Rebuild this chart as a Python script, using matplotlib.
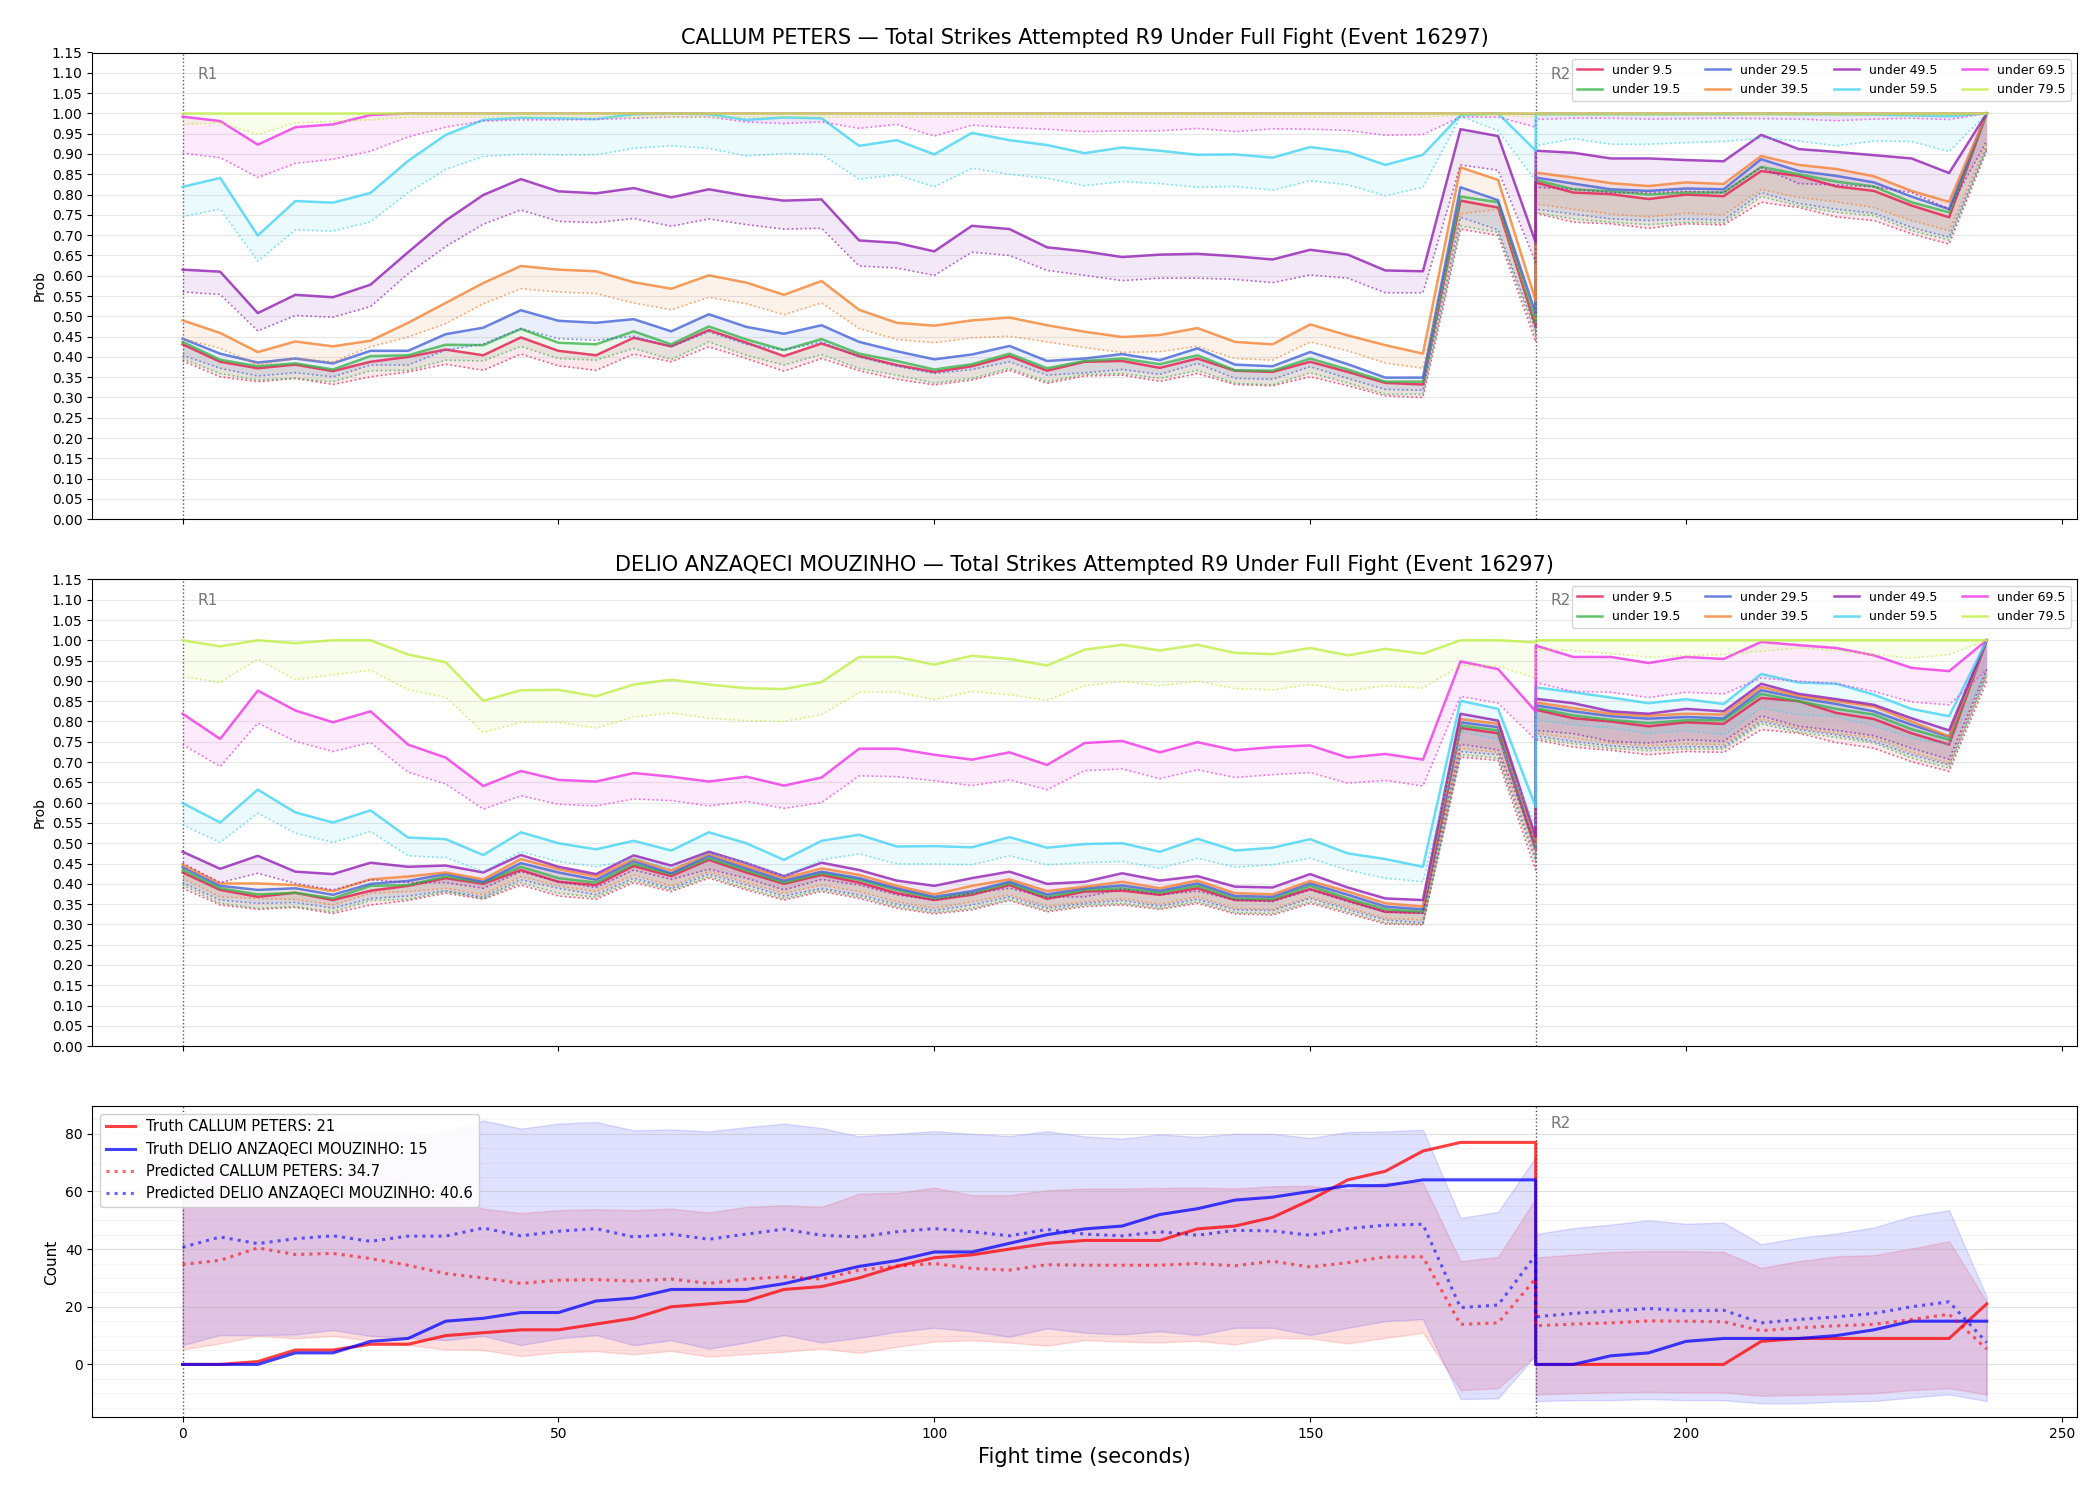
import matplotlib
matplotlib.use("Agg")
import matplotlib.pyplot as plt
import matplotlib.transforms as mtransforms
from matplotlib.ticker import MultipleLocator

# time axis: round 1 samples then round 2 samples (180 repeated -> vertical jump)
t_r1 = list(range(0, 185, 5))
t_r2 = list(range(180, 245, 5))
t = t_r1 + t_r2

labels = ["under 9.5", "under 19.5", "under 29.5", "under 39.5",
          "under 49.5", "under 59.5", "under 69.5", "under 79.5"]
colors = ["#e6194b", "#3cb44b", "#4363d8", "#f58231",
          "#911eb4", "#42d4f4", "#f032e6", "#bfef45"]

# ---------------- CALLUM PETERS (top) ----------------
cp_u95 = [0.431,0.388,0.372,0.381,0.365,0.388,0.400,0.418,0.404,0.448,0.415,0.404,0.447,0.426,
          0.466,0.435,0.402,0.433,0.402,0.380,0.363,0.377,0.402,0.366,0.388,0.390,0.373,0.396,0.366,0.363,0.388,0.363,0.336,
          0.332,0.785,0.768,0.475,
          0.830,0.805,0.801,0.789,0.800,0.796,0.858,0.846,0.820,0.809,0.773,0.744,1.0]
cp_u95_lo = [0.390,0.351,0.339,0.347,0.332,0.351,0.363,0.382,0.367,0.407,0.378,0.367,0.407,0.388,
             0.425,0.396,0.365,0.396,0.366,0.345,0.331,0.343,0.367,0.335,0.353,0.355,0.340,0.359,0.332,0.329,0.351,0.329,0.304,
             0.300,0.715,0.699,0.437,
             0.754,0.732,0.728,0.717,0.728,0.725,0.781,0.768,0.745,0.736,0.703,0.678,0.908]
cp_u195 = [0.437,0.393,0.377,0.384,0.369,0.402,0.404,0.430,0.429,0.469,0.435,0.431,0.463,0.431,
           0.475,0.443,0.417,0.444,0.408,0.390,0.369,0.382,0.408,0.372,0.390,0.396,0.382,0.404,0.367,0.366,0.396,0.369,0.339,
           0.339,0.795,0.781,0.486,
           0.836,0.813,0.808,0.800,0.805,0.805,0.868,0.850,0.832,0.820,0.781,0.756,1.0]
cp_u195_lo = [0.396,0.359,0.343,0.347,0.339,0.366,0.367,0.392,0.390,0.426,0.396,0.392,0.421,0.394,
              0.437,0.404,0.380,0.406,0.372,0.355,0.336,0.347,0.372,0.339,0.357,0.359,0.347,0.367,0.335,0.331,0.361,0.336,0.308,
              0.308,0.723,0.707,0.453,
              0.756,0.740,0.732,0.726,0.732,0.730,0.795,0.772,0.756,0.748,0.711,0.688,0.912]
cp_u295 = [0.445,0.408,0.386,0.396,0.384,0.415,0.415,0.456,0.472,0.515,0.489,0.484,0.493,0.463,
           0.505,0.474,0.457,0.478,0.437,0.414,0.394,0.406,0.427,0.390,0.396,0.407,0.392,0.421,0.381,0.377,0.412,0.382,0.349,
           0.349,0.818,0.786,0.507,
           0.842,0.827,0.813,0.809,0.815,0.813,0.887,0.858,0.846,0.830,0.795,0.764,1.0]
cp_u295_lo = [0.404,0.372,0.353,0.361,0.351,0.380,0.380,0.417,0.432,0.470,0.445,0.441,0.451,0.425,
              0.462,0.431,0.417,0.437,0.400,0.377,0.359,0.369,0.388,0.355,0.361,0.369,0.357,0.384,0.347,0.345,0.376,0.347,0.320,
              0.318,0.744,0.713,0.466,
              0.764,0.752,0.740,0.736,0.740,0.737,0.805,0.778,0.764,0.754,0.719,0.695,0.916]
cp_u395 = [0.490,0.459,0.412,0.438,0.426,0.440,0.484,0.533,0.582,0.624,0.615,0.611,0.584,0.568,
           0.601,0.583,0.553,0.587,0.516,0.484,0.477,0.490,0.497,0.478,0.462,0.449,0.454,0.471,0.437,0.431,0.480,0.453,0.429,
           0.408,0.867,0.836,0.539,
           0.854,0.842,0.828,0.821,0.830,0.826,0.895,0.873,0.863,0.845,0.809,0.782,1.0]
cp_u395_lo = [0.445,0.421,0.380,0.396,0.388,0.425,0.449,0.482,0.531,0.568,0.560,0.556,0.533,0.516,
              0.547,0.531,0.504,0.533,0.470,0.443,0.435,0.447,0.451,0.437,0.423,0.411,0.413,0.426,0.396,0.392,0.437,0.415,0.385,
              0.372,0.752,0.764,0.490,
              0.777,0.764,0.752,0.745,0.754,0.750,0.813,0.793,0.782,0.768,0.736,0.711,0.924]
cp_u495 = [0.615,0.610,0.508,0.553,0.547,0.578,0.658,0.736,0.799,0.838,0.808,0.803,0.816,0.793,
           0.813,0.797,0.785,0.788,0.687,0.681,0.660,0.723,0.715,0.670,0.660,0.646,0.652,0.654,0.648,0.640,0.664,0.652,0.613,
           0.611,0.961,0.944,0.682,
           0.908,0.903,0.889,0.889,0.885,0.882,0.947,0.912,0.905,0.897,0.889,0.853,1.0]
cp_u495_lo = [0.560,0.554,0.464,0.502,0.498,0.524,0.605,0.672,0.727,0.762,0.734,0.731,0.741,0.722,
              0.740,0.726,0.715,0.717,0.624,0.619,0.601,0.658,0.650,0.613,0.601,0.588,0.594,0.594,0.591,0.583,0.602,0.594,0.558,
              0.558,0.873,0.860,0.633,
              0.818,0.813,0.805,0.805,0.808,0.805,0.867,0.827,0.824,0.819,0.805,0.764,0.932]
cp_u595 = [0.819,0.841,0.699,0.784,0.780,0.804,0.883,0.947,0.984,0.989,0.988,0.986,0.998,1.0,
           0.998,0.984,0.990,0.988,0.920,0.934,0.899,0.952,0.934,0.922,0.902,0.916,0.908,0.898,0.899,0.891,0.917,0.905,0.873,
           0.898,0.996,1.0,0.908,
           0.998,0.998,0.998,0.998,0.998,0.998,0.999,0.998,0.998,0.997,0.995,0.993,1.0]
cp_u595_lo = [0.746,0.764,0.636,0.713,0.710,0.733,0.805,0.862,0.894,0.899,0.898,0.898,0.914,0.920,
              0.914,0.895,0.901,0.899,0.838,0.849,0.819,0.865,0.850,0.840,0.822,0.832,0.827,0.818,0.820,0.811,0.834,0.824,0.797,
              0.818,0.993,0.957,0.834,
              0.920,0.938,0.924,0.924,0.928,0.931,0.939,0.932,0.920,0.932,0.931,0.906,1.0]
cp_u695 = [0.992,0.981,0.923,0.966,0.973,0.996,1.0,1.0,1.0,1.0,1.0,1.0,1.0,1.0,
           1.0,1.0,1.0,1.0,1.0,1.0,1.0,1.0,1.0,1.0,1.0,1.0,1.0,1.0,1.0,1.0,1.0,1.0,1.0,
           1.0,1.0,1.0,0.999,
           1.0,1.0,1.0,1.0,1.0,1.0,1.0,1.0,1.0,1.0,1.0,1.0,1.0]
cp_u695_lo = [0.902,0.891,0.842,0.877,0.887,0.907,0.942,0.966,0.981,0.984,0.984,0.985,0.988,0.991,
              0.991,0.979,0.975,0.979,0.963,0.973,0.944,0.971,0.965,0.961,0.955,0.957,0.957,0.963,0.955,0.962,0.961,0.958,0.946,
              0.948,0.991,0.991,0.966,
              0.985,0.988,0.988,0.986,0.987,0.988,0.987,0.986,0.982,0.986,0.988,0.985,1.0]
cp_u795 = [1.0,1.0,1.0,1.0,1.0,1.0,1.0,1.0,1.0,1.0,1.0,1.0,1.0,1.0,
           1.0,1.0,1.0,1.0,1.0,1.0,1.0,1.0,1.0,1.0,1.0,1.0,1.0,1.0,1.0,1.0,1.0,1.0,1.0,
           1.0,1.0,1.0,1.0,
           1.0,1.0,1.0,1.0,1.0,1.0,1.0,1.0,1.0,1.0,1.0,1.0,1.0]
cp_u795_lo = [0.973,0.977,0.948,0.977,0.980,0.984,0.991,0.991,0.991,0.991,0.991,0.991,0.991,0.991,
              0.991,0.991,0.991,0.991,0.991,0.991,0.991,0.991,0.991,0.991,0.991,0.991,0.991,0.991,0.991,0.991,0.991,0.991,0.991,
              0.991,0.995,0.995,0.991,
              0.995,0.995,0.995,0.995,0.995,0.995,0.995,0.995,0.995,0.995,0.995,0.995,1.0]

# ---------------- DELIO ANZAQECI MOUZINHO (middle) ----------------
dm_u95 = [0.428,0.385,0.368,0.378,0.360,0.383,0.395,0.414,0.400,0.434,0.405,0.397,0.444,0.419,
          0.459,0.428,0.400,0.422,0.403,0.377,0.360,0.373,0.397,0.363,0.381,0.383,0.373,0.389,0.360,0.359,0.387,0.359,0.331,
          0.329,0.784,0.771,0.484,
          0.829,0.808,0.800,0.788,0.798,0.794,0.858,0.850,0.821,0.806,0.771,0.743,1.0]
dm_u95_lo = [0.389,0.348,0.337,0.342,0.327,0.348,0.359,0.377,0.362,0.397,0.370,0.362,0.403,0.381,
             0.414,0.385,0.360,0.381,0.364,0.340,0.326,0.336,0.359,0.331,0.344,0.348,0.337,0.352,0.326,0.323,0.352,0.327,0.301,
             0.299,0.712,0.704,0.434,
             0.755,0.737,0.729,0.718,0.726,0.724,0.780,0.771,0.748,0.734,0.701,0.677,0.899]
dm_u195 = [0.434,0.389,0.374,0.378,0.364,0.395,0.397,0.418,0.403,0.442,0.414,0.403,0.449,0.424,
           0.463,0.433,0.403,0.426,0.410,0.385,0.364,0.377,0.401,0.368,0.385,0.389,0.378,0.395,0.364,0.362,0.395,0.364,0.337,
           0.331,0.790,0.778,0.490,
           0.833,0.815,0.804,0.796,0.803,0.803,0.868,0.850,0.831,0.817,0.781,0.755,1.0]
dm_u195_lo = [0.397,0.352,0.340,0.344,0.331,0.359,0.362,0.381,0.364,0.403,0.377,0.367,0.408,0.385,
              0.418,0.389,0.364,0.385,0.368,0.344,0.329,0.340,0.362,0.334,0.348,0.352,0.340,0.356,0.329,0.327,0.356,0.331,0.304,
              0.301,0.718,0.710,0.455,
              0.759,0.745,0.734,0.728,0.732,0.732,0.794,0.773,0.761,0.747,0.710,0.685,0.911]
dm_u295 = [0.441,0.395,0.385,0.389,0.373,0.400,0.407,0.424,0.405,0.451,0.428,0.410,0.456,0.426,
           0.469,0.438,0.408,0.430,0.414,0.389,0.368,0.382,0.405,0.374,0.389,0.396,0.383,0.401,0.370,0.368,0.401,0.373,0.344,
           0.337,0.798,0.786,0.492,
           0.840,0.825,0.813,0.807,0.811,0.808,0.877,0.858,0.843,0.825,0.792,0.762,1.0]
dm_u295_lo = [0.403,0.360,0.352,0.354,0.340,0.364,0.370,0.383,0.367,0.410,0.389,0.373,0.414,0.389,
              0.424,0.397,0.370,0.389,0.373,0.350,0.334,0.348,0.368,0.340,0.352,0.359,0.345,0.362,0.336,0.334,0.364,0.337,0.311,
              0.304,0.726,0.718,0.463,
              0.765,0.751,0.740,0.734,0.738,0.737,0.800,0.780,0.767,0.751,0.718,0.693,0.915]
dm_u395 = [0.447,0.401,0.401,0.397,0.382,0.411,0.418,0.428,0.411,0.461,0.436,0.418,0.461,0.433,
           0.474,0.444,0.414,0.438,0.422,0.395,0.374,0.395,0.411,0.382,0.393,0.405,0.389,0.408,0.377,0.374,0.407,0.381,0.352,
           0.344,0.806,0.794,0.500,
           0.847,0.833,0.819,0.814,0.819,0.817,0.885,0.863,0.850,0.837,0.800,0.763,1.0]
dm_u395_lo = [0.414,0.368,0.364,0.362,0.348,0.377,0.381,0.389,0.373,0.418,0.395,0.381,0.422,0.395,
              0.430,0.403,0.377,0.397,0.381,0.356,0.340,0.356,0.373,0.345,0.356,0.364,0.350,0.368,0.340,0.337,0.368,0.342,0.315,
              0.311,0.734,0.724,0.475,
              0.771,0.759,0.747,0.740,0.745,0.743,0.806,0.784,0.771,0.759,0.724,0.697,0.919]
dm_u495 = [0.479,0.437,0.469,0.430,0.424,0.452,0.442,0.445,0.428,0.471,0.442,0.424,0.470,0.445,
           0.479,0.451,0.419,0.452,0.434,0.408,0.395,0.414,0.430,0.400,0.405,0.426,0.408,0.419,0.393,0.391,0.424,0.391,0.364,
           0.360,0.819,0.802,0.516,
           0.856,0.845,0.825,0.819,0.831,0.825,0.893,0.868,0.855,0.841,0.808,0.778,1.0]
dm_u495_lo = [0.451,0.403,0.426,0.401,0.385,0.410,0.403,0.403,0.389,0.430,0.405,0.391,0.434,0.411,
              0.436,0.414,0.385,0.411,0.397,0.373,0.360,0.377,0.389,0.367,0.368,0.387,0.373,0.382,0.360,0.356,0.385,0.356,0.331,
              0.327,0.744,0.730,0.500,
              0.778,0.770,0.751,0.747,0.755,0.751,0.814,0.788,0.778,0.765,0.734,0.707,0.928]
dm_u595 = [0.599,0.551,0.632,0.576,0.551,0.581,0.514,0.510,0.471,0.527,0.500,0.485,0.506,0.482,
           0.527,0.500,0.459,0.506,0.521,0.492,0.493,0.490,0.515,0.489,0.498,0.500,0.479,0.511,0.482,0.489,0.510,0.475,0.461,
           0.442,0.851,0.831,0.590,
           0.884,0.872,0.859,0.845,0.855,0.843,0.917,0.896,0.893,0.866,0.831,0.813,1.0]
dm_u595_lo = [0.545,0.502,0.574,0.525,0.502,0.529,0.469,0.465,0.430,0.479,0.455,0.442,0.461,0.438,
              0.475,0.452,0.418,0.459,0.474,0.449,0.449,0.447,0.469,0.447,0.452,0.455,0.438,0.463,0.441,0.447,0.463,0.434,0.414,
              0.405,0.776,0.755,0.541,
              0.804,0.792,0.784,0.770,0.778,0.767,0.833,0.817,0.812,0.789,0.759,0.743,0.924]
dm_u695 = [0.819,0.757,0.876,0.827,0.798,0.825,0.743,0.711,0.641,0.678,0.656,0.652,0.673,0.664,
           0.652,0.664,0.642,0.662,0.733,0.733,0.718,0.706,0.724,0.693,0.747,0.752,0.724,0.749,0.729,0.737,0.741,0.711,0.720,
           0.706,0.948,0.929,0.825,
           0.987,0.959,0.959,0.944,0.959,0.954,0.996,0.988,0.981,0.963,0.932,0.924,1.0]
dm_u695_lo = [0.743,0.689,0.796,0.751,0.726,0.748,0.675,0.646,0.584,0.617,0.596,0.592,0.609,0.605,
              0.592,0.603,0.586,0.600,0.666,0.664,0.654,0.642,0.656,0.632,0.679,0.683,0.659,0.681,0.662,0.669,0.674,0.648,0.655,
              0.641,0.862,0.845,0.755,
              0.896,0.874,0.872,0.859,0.872,0.868,0.907,0.899,0.893,0.874,0.848,0.841,0.928]
dm_u795 = [1.0,0.985,1.0,0.993,1.0,1.0,0.965,0.946,0.851,0.877,0.878,0.862,0.891,0.903,
           0.891,0.882,0.880,0.897,0.959,0.959,0.940,0.962,0.954,0.938,0.977,0.989,0.975,0.989,0.969,0.966,0.981,0.963,0.979,
           0.967,1.0,1.0,0.995,
           1.0,1.0,1.0,1.0,1.0,1.0,1.0,1.0,1.0,1.0,1.0,1.0,1.0]
dm_u795_lo = [0.911,0.896,0.954,0.903,0.915,0.926,0.878,0.860,0.773,0.798,0.798,0.784,0.811,0.821,
              0.808,0.802,0.800,0.817,0.872,0.872,0.854,0.874,0.866,0.852,0.888,0.899,0.888,0.899,0.881,0.878,0.891,0.876,0.888,
              0.882,0.938,0.936,0.907,
              0.977,0.975,0.967,0.959,0.962,0.965,0.973,0.981,0.975,0.965,0.956,0.965,1.0]

# ---------------- counts (bottom) ----------------
truth_cp = [0,0,1,5,5,7,7,10,11,12,12,14,16,20,
            21,22,26,27,30,34,37,38,40,42,43,43,43,47,48,51,57,64,67,
            74,77,77,77,
            0,0,0,0,0,0,8,9,9,9,9,9,21]
truth_dm = [0,0,0,4,4,8,9,15,16,18,18,22,23,26,
            26,26,28,31,34,36,39,39,42,45,47,48,52,54,57,58,60,62,62,
            64,64,64,64,
            0,0,3,4,8,9,9,9,10,12,15,15,15]
pred_cp = [34.7,36.1,40.4,38.1,38.5,36.7,34.4,31.5,30.0,28.1,29.2,29.4,28.9,29.6,
           28.1,29.6,30.4,29.6,32.7,34.1,35.0,33.3,32.7,34.6,34.4,34.4,34.4,35.0,34.2,35.8,33.8,35.3,37.3,
           37.3,13.9,14.4,29.8,
           13.4,14.0,14.4,15.1,15.0,14.8,11.7,12.7,13.4,13.9,15.6,17.4,5.3]
pred_dm = [40.6,44.2,41.9,43.6,44.6,42.7,44.5,44.5,47.3,44.6,46.2,47.1,44.2,45.2,
           43.4,45.2,46.9,44.8,44.2,46.0,47.1,46.0,44.6,46.8,45.2,44.6,46.0,44.8,46.5,46.3,44.8,47.1,48.3,
           48.6,19.7,20.6,37.9,
           16.5,17.7,18.5,19.4,18.6,18.8,14.4,15.6,16.5,17.7,20.0,21.7,7.6]
cp_lo = [5.2,7.3,9.9,9.0,9.9,8.2,6.7,5.2,5.0,2.9,4.2,4.6,3.5,4.7,
         2.7,3.6,4.4,5.5,4.0,6.1,7.9,8.4,7.6,6.5,8.4,7.9,7.6,8.2,6.9,9.2,9.0,7.3,9.2,
         11.0,-8.9,-8.3,3.2,
         -10.4,-10.0,-9.7,-9.5,-9.7,-9.7,-10.9,-10.6,-10.4,-10.0,-8.9,-8.3,-10.4]
cp_hi = [64,67,70,69,68,66,63,58,54,52.5,53.5,53.8,53.5,54,
         52.7,54.6,55.2,54.6,59.2,59.5,61.3,58.7,58.7,60.4,61,61,61.2,61.3,61,61.8,61.9,60.7,63,
         63,35.8,37.3,57.5,
         37.1,38.1,39.0,39.3,39.3,39.0,33.5,35.8,37.5,37.9,40.2,42.7,21.7]
dm_lo = [6.7,10.2,10.2,10.4,11.9,9.9,9.2,8.4,9.9,6.7,9.0,10.2,6.7,8.4,
         5.5,7.6,10.2,7.6,9.2,11.3,12.7,11.5,9.6,12.5,11.0,10.4,11.5,10.2,12.7,12.7,10.2,12.7,15.0,
         15.7,-12.0,-11.8,3.2,
         -12.7,-12.4,-12.4,-12.0,-12.4,-12.4,-13.5,-13.5,-12.9,-12.7,-11.5,-10.4,-12.7]
dm_hi = [70,75,74,76,77,77,79,81,84.6,81.8,83.5,84.1,81.2,81.5,
         80.8,82.3,83.5,82.0,79.1,80.0,80.9,80.0,79.2,80.9,79.1,78.3,79.8,78.9,80.0,80.0,78.5,80.6,80.8,
         81.4,50.8,52.9,71.9,
         45.2,47.3,48.5,50.0,48.8,49.2,41.7,43.9,45.4,47.5,51.4,53.5,23.4]

name_cp = "CALLUM PETERS"
name_dm = "DELIO ANZAQECI MOUZINHO"
final_cp = 21
final_dm = 15
round_starts = [0, 180]
round_names = ["R1", "R2"]

cp_means = [cp_u95, cp_u195, cp_u295, cp_u395, cp_u495, cp_u595, cp_u695, cp_u795]
cp_lows = [cp_u95_lo, cp_u195_lo, cp_u295_lo, cp_u395_lo, cp_u495_lo, cp_u595_lo, cp_u695_lo, cp_u795_lo]
dm_means = [dm_u95, dm_u195, dm_u295, dm_u395, dm_u495, dm_u595, dm_u695, dm_u795]
dm_lows = [dm_u95_lo, dm_u195_lo, dm_u295_lo, dm_u395_lo, dm_u495_lo, dm_u595_lo, dm_u695_lo, dm_u795_lo]


def mark_rounds(ax):
    trans = mtransforms.blended_transform_factory(ax.transData, ax.transAxes)
    for x, name in zip(round_starts, round_names):
        ax.axvline(x, color="#555555", linestyle=":", linewidth=1.0, zorder=1)
        ax.text(x + 2, 0.97, name, transform=trans, va="top", ha="left",
                fontsize=11, color="#777777")


def prob_panel(ax, name, means, lows):
    for lab, col, m, lo in zip(labels, colors, means, lows):
        ax.fill_between(t, lo, m, color=col, alpha=0.1, linewidth=0)
        ax.plot(t, lo, color=col, linestyle=":", linewidth=1.2, alpha=0.7)
        ax.plot(t, m, color=col, linewidth=1.8, alpha=0.8, label=lab)
    mark_rounds(ax)
    ax.set_ylim(0, 1.15)
    ax.yaxis.set_major_locator(MultipleLocator(0.05))
    ax.grid(axis="y", alpha=0.3)
    ax.set_ylabel("Prob")
    ax.set_title(name + " \u2014 Total Strikes Attempted R9 Under Full Fight (Event 16297)",
                 fontsize=15)
    ax.legend(loc="upper right", ncol=4, fontsize=9)
    ax.tick_params(labelbottom=False)


fig = plt.figure(figsize=(21, 15), dpi=100)
gs = fig.add_gridspec(3, 1, height_ratios=[3, 3, 2], hspace=0.145,
                      left=0.044, right=0.989, top=0.965, bottom=0.055)
ax1 = fig.add_subplot(gs[0])
ax2 = fig.add_subplot(gs[1], sharex=ax1)
ax3 = fig.add_subplot(gs[2], sharex=ax1)

prob_panel(ax1, name_cp, cp_means, cp_lows)
prob_panel(ax2, name_dm, dm_means, dm_lows)

# counts panel
ax3.fill_between(t, cp_lo, cp_hi, color="red", alpha=0.13)
ax3.fill_between(t, dm_lo, dm_hi, color="blue", alpha=0.12)
ax3.plot(t, truth_cp, color="red", linewidth=2.2, alpha=0.75,
         label="Truth %s: %d" % (name_cp, final_cp))
ax3.plot(t, truth_dm, color="blue", linewidth=2.2, alpha=0.75,
         label="Truth %s: %d" % (name_dm, final_dm))
ax3.plot(t, pred_cp, color="red", linestyle=":", linewidth=2.2, alpha=0.6,
         label="Predicted %s: %.1f" % (name_cp, pred_cp[0]))
ax3.plot(t, pred_dm, color="blue", linestyle=":", linewidth=2.2, alpha=0.6,
         label="Predicted %s: %.1f" % (name_dm, pred_dm[0]))
mark_rounds(ax3)
ax3.yaxis.set_major_locator(MultipleLocator(20))
ax3.yaxis.set_minor_locator(MultipleLocator(5))
ax3.tick_params(axis="y", which="minor", length=0)
ax3.grid(axis="y", which="major", alpha=0.4)
ax3.grid(axis="y", which="minor", alpha=0.15)
ax3.set_ylabel("Count", fontsize=11)
ax3.set_xlabel("Fight time (seconds)", fontsize=15)
ax3.legend(loc="upper left", fontsize=10.5, framealpha=0.9)

plt.savefig("out.png", dpi=100)
